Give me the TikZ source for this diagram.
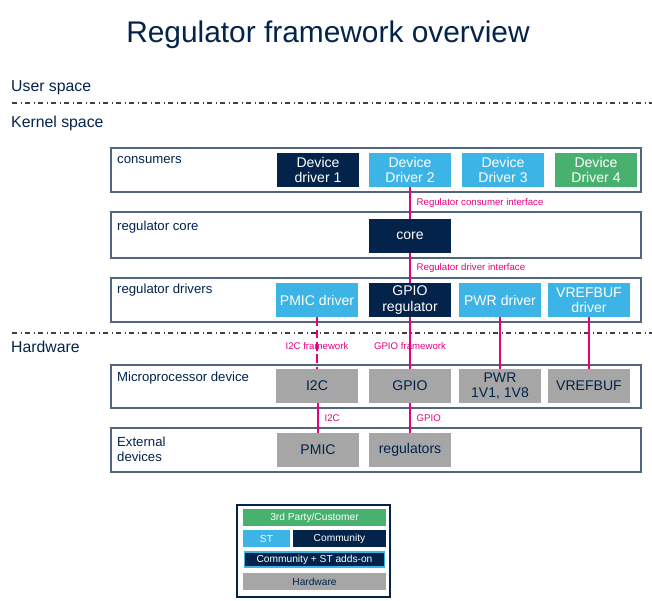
\documentclass[tikz,border=0pt]{standalone}
\usepackage{fontspec}
\setmainfont{Liberation Sans}
\usepackage{xcolor}
\usetikzlibrary{positioning}
\definecolor{stnavy}{HTML}{03234B}
\definecolor{stblue}{HTML}{3CB4E6}
\definecolor{stgreen}{HTML}{49B170}
\definecolor{stgrey}{HTML}{A6A6A6}
\definecolor{stpink}{HTML}{E6007E}
\definecolor{layerline}{HTML}{4F6582}
\tikzset{
  layer/.style={draw=layerline,line width=0.8pt,fill=white},
  blk/.style={minimum width=1.64cm,minimum height=0.68cm,inner sep=1pt,
    align=center,font=\fontsize{8}{8.6}\selectfont},
  community/.style={blk,fill=stnavy,text=white},
  st/.style={blk,fill=stblue,text=white},
  custom/.style={blk,fill=stgreen,text=white},
  hw/.style={blk,fill=stgrey,text=stnavy},
  lbl/.style={anchor=west,font=\fontsize{7.5}{8.5}\selectfont,text=stnavy,align=left},
  iface/.style={draw=stpink,line width=0.9pt},
  iftxt/.style={font=\fontsize{5.5}{6}\selectfont,text=stpink},
  sep/.style={dash dot,line width=0.7pt,black!75},
}
\begin{document}
\begin{tikzpicture}[x=0.02cm,y=-0.02cm]
\useasboundingbox (0,0) rectangle (652,600);
% title and spaces
\node[font=\fontsize{17}{20}\selectfont,text=stnavy] (title) at (328,35) {Regulator framework overview};
\node[lbl,font=\fontsize{9}{10}\selectfont] (user) at (5,88) {User space};
\draw[sep] (12,103) -- (652,103);
\node[lbl,font=\fontsize{9}{10}\selectfont] (kernel) at (5,123) {Kernel space};
\draw[sep] (12,333) -- (652,333);
\node[lbl,font=\fontsize{9}{10}\selectfont] (hardware) at (5,347) {Hardware};

% layers
\draw[layer] (111,148) rectangle (641,192);
\node[lbl] (consumers) at (111,160) {consumers};
\draw[layer] (111,212) rectangle (641,258);
\node[lbl] (core) at (111,227) {regulator core};
\draw[layer] (111,278) rectangle (641,322);
\node[lbl] (drivers) at (111,290) {regulator drivers};
\draw[layer] (111,365) rectangle (641,408);
\node[lbl] (soc) at (111,378) {Microprocessor device};
\draw[layer] (111,428) rectangle (641,472);
\node[lbl] (ext) at (111,449) {External\\devices};

% consumers
\node[community] (dd1) at (318,170) {Device\\driver 1};
\node[st] (dd2) at (410,170) {Device\\Driver 2};
\node[st] (dd3) at (503,170) {Device\\Driver 3};
\node[custom] (dd4) at (596,170) {Device\\Driver 4};
% core
\node[community] (regcore) at (410,236) {core};
% drivers
\node[st] (pmicdrv) at (317,300) {PMIC driver};
\node[community] (gpioreg) at (410,300) {GPIO\\regulator};
\node[st] (pwrdrv) at (500,300) {PWR driver};
\node[st] (vrefdrv) at (589,300) {VREFBUF\\driver};
% microprocessor
\node[hw] (i2c) at (317,386) {I2C};
\node[hw] (gpio) at (410,386) {GPIO};
\node[hw] (pwr) at (500,386) {PWR\\1V1, 1V8};
\node[hw] (vref) at (589,386) {VREFBUF};
% external
\node[hw] (pmic) at (318,450) {PMIC};
\node[hw] (regs) at (410,450) {regulators};

% interfaces
\draw[iface] (dd2.south) -- (regcore.north)
  node[midway,right,iftxt] {Regulator consumer interface};
\draw[iface] (regcore.south) -- (gpioreg.north)
  node[midway,right,iftxt] {Regulator driver interface};
\draw[iface,dash pattern=on 5pt off 2pt] (pmicdrv.south) -- (i2c.north)
  node[pos=0.55,iftxt] {I2C framework};
\draw[iface] (gpioreg.south) -- (gpio.north)
  node[pos=0.55,iftxt] {GPIO framework};
\draw[iface] (pwrdrv.south) -- (pwr.north);
\draw[iface] (vrefdrv.south) -- (vref.north);
\draw[iface] (i2c.south-|pmic.north) -- (pmic.north)
  node[midway,right,iftxt] {I2C};
\draw[iface] (gpio.south) -- (regs.north)
  node[midway,right,iftxt] {GPIO};

% legend
\draw[draw=stnavy,line width=1pt] (237,505) rectangle (390,597);
\tikzset{leg/.style={minimum height=0.34cm,inner sep=0pt,font=\fontsize{5.8}{6}\selectfont}}
\node[leg,fill=stgreen,text=white,minimum width=2.86cm] (lcust) at (314.5,517.5) {3rd Party/Customer};
\node[leg,fill=stblue,text=white,minimum width=0.94cm] (lst) at (266.5,538.5) {ST};
\node[leg,fill=stnavy,text=white,minimum width=1.86cm] (lcomm) at (339.5,538.5) {Community};
\node[leg,fill=stnavy,text=white,draw=stblue,line width=1pt,minimum width=2.8cm,minimum height=0.3cm] (ladd) at (314.5,559.5) {Community + ST adds-on};
\node[leg,fill=stgrey,text=stnavy,minimum width=2.86cm] (lhw) at (314.5,581.5) {Hardware};
\end{tikzpicture}
\end{document}
